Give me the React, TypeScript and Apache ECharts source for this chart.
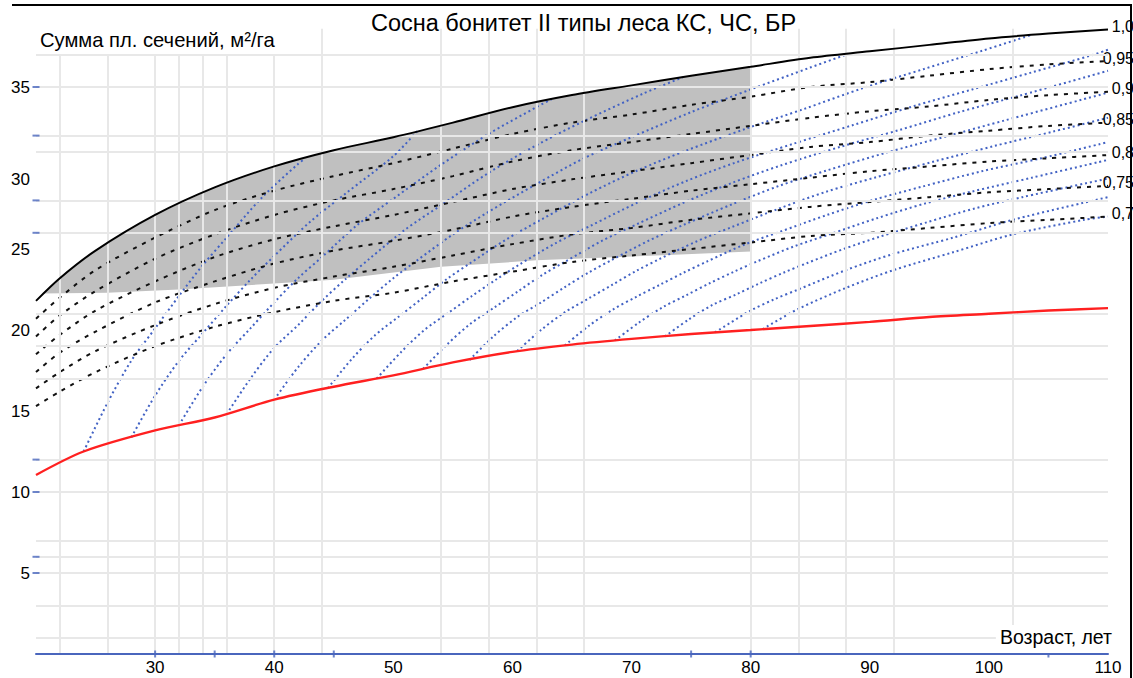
import { useEffect, useRef } from 'react';
import * as echarts from 'echarts';

// Texts
const chartTitle = 'Сосна бонитет II типы леса КС, ЧС, БР';
const yAxisName = 'Сумма пл. сечений, м²/га';
const xAxisName = 'Возраст, лет';

// Relative density curves (ages in years, basal area in m²/ha)
const densityAges = [20, 22, 25, 30, 35, 40, 45, 50, 55, 60, 65, 70, 75, 80, 85, 90, 95, 100, 105, 110];
const density100 = [21.8, 23.2, 24.9, 27.1, 28.8, 30.1, 31.1, 31.9, 32.8, 33.75, 34.5, 35.1, 35.7, 36.25, 36.8, 37.2, 37.6, 38.0, 38.3, 38.55];
const density095 = [20.7, 22.0, 23.7, 25.7, 27.4, 28.6, 29.5, 30.3, 31.2, 32.1, 32.8, 33.3, 33.9, 34.4, 35.0, 35.3, 35.7, 36.1, 36.4, 36.6];
const density090 = [19.6, 20.9, 22.4, 24.4, 25.9, 27.1, 28.0, 28.7, 29.5, 30.4, 31.1, 31.6, 32.1, 32.6, 33.1, 33.5, 33.8, 34.2, 34.5, 34.7];
const density085 = [18.5, 19.7, 21.2, 23.0, 24.5, 25.6, 26.4, 27.1, 27.9, 28.7, 29.3, 29.8, 30.3, 30.8, 31.3, 31.6, 32.0, 32.3, 32.6, 32.8];
const density080 = [17.4, 18.6, 19.9, 21.7, 23.0, 24.1, 24.9, 25.5, 26.2, 27.0, 27.6, 28.1, 28.6, 29.0, 29.4, 29.8, 30.1, 30.4, 30.6, 30.8];
const density075 = [16.4, 17.4, 18.7, 20.3, 21.6, 22.6, 23.3, 23.9, 24.6, 25.3, 25.9, 26.3, 26.8, 27.2, 27.6, 27.9, 28.2, 28.5, 28.7, 28.9];
const density070 = [15.3, 16.2, 17.4, 19.0, 20.2, 21.1, 21.8, 22.3, 23.0, 23.6, 24.2, 24.6, 25.0, 25.4, 25.8, 26.0, 26.3, 26.6, 26.8, 27.0];
const densityNames = ['1,0', '0,95', '0,9', '0,85', '0,8', '0,75', '0,7'];
const densityValues = [density100, density095, density090, density085, density080, density075, density070];

// Lower limit curve
const redAges = [20, 24, 30, 35, 40, 45, 50, 55, 60, 65, 70, 75, 80, 85, 90, 95, 100, 105, 110];
const redValues = [11.05, 12.5, 13.8, 14.6, 15.7, 16.5, 17.2, 18.0, 18.65, 19.1, 19.45, 19.75, 20.0, 20.25, 20.5, 20.8, 21.0, 21.2, 21.35];

// Lower edge of the shaded zone (upper edge follows the 1,0 curve up to age 80)
const zoneLower: [number, number][] = [
  [20.5, 22.25], [26, 22.3], [32, 22.5], [45, 23.1], [54, 23.9], [62, 24.3], [69, 24.5], [80, 24.85],
];
const zoneEndAge = 80;

// Growth paths (age, basal area), each starting on the lower limit curve
const growth24 = [[24, 12.5], [26, 15.5], [28, 18.1], [30, 20.1], [32, 22.1], [34, 24.0], [36, 25.7], [39, 28.2], [42, 30.25], [42.6, 30.6]];
const growth28 = [[28, 13.37], [30, 15.95], [32, 18.1], [34, 19.8], [36, 21.5], [38, 23.1], [40, 24.57], [43, 26.67], [46, 28.43], [50, 30.73], [52, 32.27]];
const growth32 = [[32, 14.12], [34, 16.5], [36, 18.5], [38, 20.1], [40, 21.7], [42, 23.2], [44, 24.5], [47, 26.5], [50, 28.1], [54, 30.2], [58, 32.1], [62, 33.75], [63.3, 34.25]];
const growth36 = [[36, 14.8], [38, 17.0], [40, 18.9], [42, 20.3], [44, 21.8], [46, 23.15], [48, 24.4], [51, 26.2], [54, 27.7], [58, 29.7], [62, 31.4], [66, 32.9], [71, 34.6], [74.3, 35.6]];
const growth40 = [[40, 15.7], [42, 17.7], [44, 19.35], [46, 20.65], [48, 21.95], [50, 23.2], [52, 24.3], [55, 25.9], [58, 27.3], [62, 29.0], [66, 30.6], [70, 31.9], [75, 33.45], [80, 34.85], [85, 36.2], [88.2, 37.05]];
const growth44 = [[44.5, 16.4], [46.5, 18.2], [48.5, 19.7], [50.5, 20.85], [52.5, 22.0], [54.5, 23.15], [56.5, 24.15], [59.5, 25.6], [62.5, 26.85], [66.5, 28.45], [70.5, 29.85], [74.5, 31.05], [79.5, 32.4], [84.5, 33.65], [89.5, 34.95], [94.5, 36.1], [99.5, 37.25], [103.5, 38.2]];
const growth48 = [[48.6, 17.0], [50.6, 18.6], [52.6, 20.0], [54.6, 21.05], [56.6, 22.1], [58.6, 23.1], [60.6, 24.05], [63.6, 25.35], [66.6, 26.45], [70.6, 27.9], [74.6, 29.2], [78.6, 30.3], [83.6, 31.5], [88.6, 32.65], [93.6, 33.8], [98.6, 34.85], [103.6, 35.9], [108.6, 36.95], [110, 37.3]];
const growth52 = [[52.5, 17.6], [54.5, 19.1], [56.5, 20.4], [58.5, 21.4], [60.5, 22.4], [62.5, 23.4], [64.5, 24.25], [67.5, 25.5], [70.5, 26.55], [74.5, 27.9], [78.5, 29.1], [82.5, 30.15], [87.5, 31.3], [92.5, 32.35], [97.5, 33.45], [102.5, 34.45], [110, 36.0]];
const growth56 = [[56.4, 18.15], [58.4, 19.6], [60.4, 20.8], [62.4, 21.7], [64.4, 22.65], [66.4, 23.55], [68.4, 24.35], [71.4, 25.5], [74.4, 26.5], [78.4, 27.75], [82.4, 28.9], [86.4, 29.85], [91.4, 30.95], [96.4, 31.95], [101.4, 32.95], [110, 34.65]];
const growth60 = [[60.4, 18.7], [62.4, 20.0], [64.4, 21.1], [66.4, 21.95], [68.4, 22.8], [70.4, 23.65], [72.4, 24.4], [75.4, 25.45], [78.4, 26.35], [82.4, 27.5], [86.4, 28.55], [90.4, 29.4], [95.4, 30.4], [100.4, 31.35], [105.4, 32.25], [110, 33.1]];
const growth64 = [[64.4, 19.05], [66.4, 20.25], [68.4, 21.25], [70.4, 22.05], [72.4, 22.8], [74.4, 23.55], [76.4, 24.25], [79.4, 25.25], [82.4, 26.05], [86.4, 27.1], [90.4, 28.05], [94.4, 28.85], [99.4, 29.8], [104.4, 30.6], [110, 31.6]];
const growth68 = [[68.6, 19.35], [70.6, 20.45], [72.6, 21.4], [74.6, 22.15], [76.6, 22.9], [78.6, 23.6], [80.6, 24.25], [83.6, 25.15], [86.6, 25.9], [90.6, 26.9], [94.6, 27.8], [98.6, 28.55], [103.6, 29.4], [110, 30.5]];
const growth72 = [[72.8, 19.6], [74.8, 20.65], [76.8, 21.55], [78.8, 22.2], [80.8, 22.9], [82.8, 23.55], [84.8, 24.15], [87.8, 25.0], [90.8, 25.75], [94.8, 26.65], [98.8, 27.5], [102.8, 28.2], [110, 29.35]];
const growth77 = [[77, 19.85], [80, 21.2], [82, 21.9], [84, 22.5], [88, 23.7], [92, 24.7], [97, 25.7], [102, 26.8], [110, 28.2]];
const growth81 = [[81, 20.05], [84, 21.3], [88, 22.6], [92, 23.7], [97, 24.8], [102, 25.9], [108, 26.8], [110, 27.0]];
const growthPaths = [growth24, growth28, growth32, growth36, growth40, growth44, growth48, growth52, growth56, growth60, growth64, growth68, growth72, growth77, growth81];

// Axis marks and grid
const xTickMarks = [30, 35, 40, 45, 75, 80, 105];
const yTickMarks = [5, 6, 10, 12, 26, 28, 32, 35];
const xGridShort = [22, 26, 30, 32, 34, 36, 40];
const xGridLong = [44, 54, 58, 62, 66, 80, 84, 88, 92, 102];
const yGridLines = [1, 3, 5, 6, 7, 10, 12, 17, 19, 21, 26, 28, 31, 32, 35, 37];

const FONT = '"Liberation Sans", Arial, sans-serif';
const AXIS_BLUE = '#4a66bd';
const PATH_BLUE = '#4262c4';
const GRID_GREY = '#e8e8e8';

export default function App() {
  const ref = useRef<HTMLDivElement>(null);

  useEffect(() => {
    document.body.style.margin = '0';
    const chart = echarts.init(ref.current!, null, { renderer: 'svg' });

    const zoneTop = densityAges
      .map((a, i) => [a, density100[i]] as [number, number])
      .filter(([a]) => a > zoneLower[0][0] && a <= zoneEndAge);

    const series: any[] = [];

    // shaded zone
    series.push({
      type: 'custom',
      name: 'zone',
      z: 1,
      silent: true,
      data: [[zoneLower[0][0], zoneLower[0][1]]],
      renderItem: (_params: any, api: any) => {
        const pts = [zoneLower[0], ...zoneTop, ...zoneLower.slice().reverse()].map((p) => api.coord(p));
        return { type: 'polygon', shape: { points: pts, smooth: 0 }, style: { fill: '#c0c0c0' } };
      },
    });

    // grid lines
    series.push({
      type: 'line',
      name: 'grid',
      z: 2,
      data: [],
      silent: true,
      markLine: {
        silent: true,
        symbol: ['none', 'none'],
        label: { show: false },
        lineStyle: { type: 'solid', color: GRID_GREY, width: 2 },
        data: [
          ...yGridLines.map((v) => ({ yAxis: v })),
          ...xGridShort.map((a) => [{ coord: [a, 0] }, { coord: [a, 37] }]),
          ...xGridLong.map((a) => [{ coord: [a, 0] }, { coord: [a, 38.6] }]),
        ],
      },
    });

    growthPaths.forEach((path, i) => {
      series.push({
        type: 'line',
        name: 'growth' + i,
        z: 3,
        data: path,
        showSymbol: false,
        smooth: 0.3,
        silent: true,
        lineStyle: { color: PATH_BLUE, width: 2, type: [2, 3] },
      });
    });

    densityValues.forEach((vals, i) => {
      const solid = i === 0;
      series.push({
        type: 'line',
        name: densityNames[i],
        z: solid ? 5 : 4,
        data: densityAges.map((a, j) => [a, vals[j]]),
        showSymbol: false,
        smooth: 0.3,
        silent: true,
        lineStyle: solid
          ? { color: '#000', width: 2, type: 'solid' }
          : { color: '#111', width: 2, type: [4, 6] },
        endLabel: {
          show: true,
          formatter: densityNames[i],
          align: 'right',
          offset: [18, -3],
          color: '#000',
          fontSize: 16,
          fontFamily: FONT,
        },
      });
    });

    series.push({
      type: 'line',
      name: 'lower',
      z: 5,
      data: redAges.map((a, j) => [a, redValues[j]]),
      showSymbol: false,
      smooth: 0.3,
      silent: true,
      lineStyle: { color: '#ff2020', width: 2.4 },
    });

    // axis tick marks
    series.push({
      type: 'scatter',
      name: 'xticks',
      z: 6,
      clip: false,
      silent: true,
      symbol: 'rect',
      symbolSize: [2, 7],
      itemStyle: { color: AXIS_BLUE },
      data: xTickMarks.map((a) => [a, 0]),
    });
    series.push({
      type: 'scatter',
      name: 'yticks',
      z: 6,
      clip: false,
      silent: true,
      symbol: 'rect',
      symbolSize: [7, 2],
      itemStyle: { color: AXIS_BLUE },
      data: yTickMarks.map((v) => [20, v]),
    });

    chart.setOption({
      animation: false,
      backgroundColor: '#fff',
      textStyle: { fontFamily: FONT },
      title: {
        text: chartTitle,
        left: 366,
        top: 6,
        textStyle: { fontSize: 23.5, fontWeight: 'normal', color: '#000', fontFamily: FONT },
      },
      grid: { left: 36, right: 25, top: 6, bottom: 24, containLabel: false },
      xAxis: {
        type: 'value',
        min: 20,
        max: 110,
        interval: 10,
        z: 10,
        name: xAxisName,
        nameLocation: 'end',
        nameGap: 4,
        nameTextStyle: {
          fontSize: 19.5,
          color: '#000',
          align: 'right',
          verticalAlign: 'bottom',
          backgroundColor: '#fff',
          padding: [2, 0, 7, 4],
          fontFamily: FONT,
        },
        axisLine: { show: true, lineStyle: { color: AXIS_BLUE, width: 2 } },
        axisTick: { show: false },
        splitLine: { show: false },
        axisLabel: {
          color: '#000',
          fontSize: 17,
          margin: 5,
          fontFamily: FONT,
          formatter: (v: number) => (v === 20 ? '' : String(v)),
        },
      },
      yAxis: {
        type: 'value',
        min: 0,
        max: 40,
        interval: 5,
        name: yAxisName,
        nameLocation: 'end',
        nameGap: -44,
        nameTextStyle: { fontSize: 20.2, color: '#000', align: 'left', padding: [0, 0, 0, 4], fontFamily: FONT },
        axisLine: { show: false },
        axisTick: { show: false },
        splitLine: { show: false },
        axisLabel: {
          color: '#000',
          fontSize: 17,
          margin: 6,
          fontFamily: FONT,
          formatter: (v: number) => (v === 0 || v === 40 ? '' : v === 30 ? '{low|30}' : String(v)),
          rich: { low: { fontSize: 17, color: '#000', fontFamily: FONT, padding: [22, 0, 0, 0] } },
        },
      },
      graphic: [
        { type: 'line', shape: { x1: 12, y1: 5, x2: 1131, y2: 5 }, style: { stroke: '#000', lineWidth: 2 }, silent: true },
        { type: 'line', shape: { x1: 1131, y1: 4, x2: 1131, y2: 678 }, style: { stroke: '#000', lineWidth: 2 }, silent: true },
      ],
      series,
    });

    return () => chart.dispose();
  }, []);

  return <div ref={ref} style={{ width: 1133, height: 678 }} />;
}
